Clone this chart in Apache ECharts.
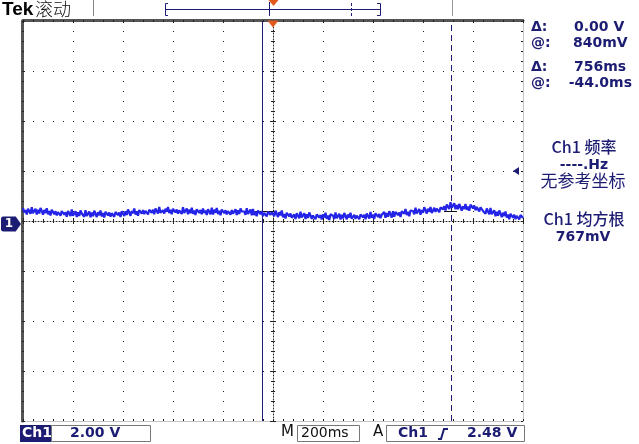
<!DOCTYPE html>
<html><head><meta charset="utf-8">
<script src="https://cdn.jsdelivr.net/npm/echarts@6/dist/echarts.min.js"></script>
<style>html,body{margin:0;padding:0;background:#fff;}#c{width:639px;height:444px;}</style>
</head><body><div id="c"></div>
<script>
// ---- data ----
const timeStart = -1000;      // ms (screen left)
const timeStep = 5;           // ms per sample
const timeRange = [-1000, 1000];
const voltRange = [-8, 8];
const timeDiv = 200;          // ms/div
const voltDiv = 2;            // V/div
const ch1Volts = [
 0.52,0.34,0.44,0.26,0.49,0.42,0.29,0.55, 0.31,0.36,0.49,0.26,0.45,0.30,0.52,0.40,
 0.25,0.44,0.32,0.51,0.27,0.40,0.22,0.45, 0.45,0.27,0.39,0.22,0.36,0.43,0.21,0.40,
 0.43,0.25,0.35,0.17,0.40,0.33,0.20,0.46, 0.21,0.26,0.39,0.16,0.35,0.20,0.42,0.30,
 0.30,0.17,0.43,0.20,0.25,0.38,0.15,0.34, 0.19,0.41,0.29,0.16,0.35,0.23,0.42,0.18,
 0.32,0.14,0.37,0.40,0.22,0.34,0.17,0.31, 0.39,0.17,0.36,0.42,0.24,0.34,0.16,0.39,
 0.43,0.20,0.39,0.24,0.46,0.34,0.21,0.40, 0.31,0.50,0.26,0.39,0.21,0.44,0.47,0.29,
 0.44,0.27,0.41,0.48,0.26,0.45,0.51,0.33, 0.45,0.27,0.50,0.43,0.30,0.56,0.33,0.38,
 0.43,0.30,0.49,0.37,0.56,0.32,0.45,0.27, 0.49,0.52,0.34,0.46,0.29,0.43,0.50,0.28,
 0.55,0.32,0.37,0.50,0.27,0.46,0.31,0.53, 0.29,0.42,0.24,0.47,0.50,0.32,0.44,0.27,
 0.50,0.32,0.42,0.24,0.47,0.40,0.27,0.53, 0.26,0.45,0.33,0.52,0.28,0.41,0.23,0.46,
 0.49,0.31,0.43,0.26,0.40,0.47,0.25,0.44, 0.29,0.34,0.47,0.24,0.43,0.28,0.50,0.38,
 0.45,0.38,0.25,0.51,0.28,0.33,0.46,0.23, 0.48,0.24,0.37,0.19,0.42,0.45,0.27,0.39,
 0.19,0.33,0.40,0.18,0.37,0.43,0.25,0.35, 0.34,0.19,0.41,0.29,0.16,0.35,0.23,0.42,
 0.15,0.28,0.10,0.33,0.36,0.18,0.30,0.13, 0.16,0.26,0.08,0.31,0.24,0.11,0.37,0.14,
 0.18,0.31,0.08,0.27,0.12,0.34,0.22,0.09, 0.22,0.29,0.07,0.26,0.32,0.14,0.24,0.06,
 0.26,0.14,0.33,0.09,0.22,0.04,0.27,0.30, 0.21,0.08,0.34,0.11,0.16,0.29,0.06,0.25,
 0.10,0.32,0.20,0.07,0.26,0.14,0.33,0.09, 0.13,0.25,0.08,0.22,0.29,0.07,0.26,0.32,
 0.15,0.25,0.07,0.30,0.23,0.10,0.36,0.13, 0.26,0.08,0.31,0.34,0.16,0.28,0.11,0.25,
 0.23,0.36,0.13,0.32,0.17,0.39,0.27,0.14, 0.39,0.17,0.36,0.42,0.24,0.34,0.16,0.39,
 0.41,0.29,0.48,0.24,0.37,0.19,0.42,0.45, 0.40,0.27,0.53,0.30,0.35,0.48,0.25,0.44,
 0.33,0.55,0.43,0.30,0.49,0.37,0.56,0.32, 0.41,0.53,0.36,0.50,0.57,0.35,0.54,0.60,
 0.47,0.59,0.42,0.66,0.60,0.48,0.75,0.53,
 0.59,0.71,0.47,0.64,0.47,0.68,0.55,0.41,
 0.59,0.48,0.68,0.45,0.58,0.41,0.65,0.68,
 0.51,0.62,0.43,0.56,0.61,0.38,0.55,0.60,
 0.40,0.48,0.29,0.50,0.42,0.27,0.52,0.27,
 0.31,0.43,0.19,0.37,0.21,0.42,0.29,0.15,
 0.33,0.20,0.38,0.14,0.26,0.07,0.29,0.32,
 0.13,0.25,0.07,0.21,0.28,0.06,0.24,0.30,0.12
];
const cursorTimes = [-44, 712];      // ms
const trackLevel = 0.4;              // V at cursor crossing
const triggerLevelMark = 2.0;        // V (right-edge marker)
const readout = {
  dV: '0.00 V', atV: '840mV', dT: '756ms', atT: '-44.0ms',
  freqTitle: 'Ch1 频率', freq: '----.Hz', freqNote: '无参考坐标',
  rmsTitle: 'Ch1 均方根', rms: '767mV',
  scale: '2.00 V', time: '200ms', trig: '2.48 V'
};

const navy = '#1c1c72';
const trace = '#2424e8';
const font = '"DejaVu Sans"';
const cjk = '"Noto Sans CJK SC"';

const seriesData = ch1Volts.map((v, i) => [timeStart + i * timeStep, v]);

const G = {left: 23, top: 21, width: 500, height: 400};
const dots = [1, 9];

const chart = echarts.init(document.getElementById('c'), null, {renderer: 'canvas'});
chart.setOption({
  animation: false,
  backgroundColor: '#ffffff',
  grid: [
    Object.assign({}, G),
    Object.assign({}, G),
    Object.assign({}, G)
  ],
  xAxis: [
    { gridIndex: 0, type: 'value', min: timeRange[0], max: timeRange[1], interval: timeDiv, position: 'bottom',
      axisLine: {show: true, onZero: false, lineStyle: {color: '#c4c4c4', width: 1}},
      axisTick: {show: true, inside: true, length: 2, lineStyle: {color: '#222'}},
      minorTick: {show: true, splitNumber: 5, length: 2, lineStyle: {color: '#222'}},
      axisLabel: {show: false},
      splitLine: {show: true, lineStyle: {color: '#222', width: 1, type: dots}} },
    { gridIndex: 0, type: 'value', min: timeRange[0], max: timeRange[1], interval: timeDiv, position: 'top', offset: 1,
      axisLine: {show: true, onZero: false, lineStyle: {color: '#555', width: 3}},
      axisTick: {show: true, inside: true, length: 3, lineStyle: {color: '#222'}},
      minorTick: {show: true, splitNumber: 5, length: 2, lineStyle: {color: '#222'}},
      axisLabel: {show: false}, splitLine: {show: false} },
    { gridIndex: 1, type: 'value', min: timeRange[0], max: timeRange[1], interval: timeDiv,
      axisLine: {show: true, onZero: true, lineStyle: {color: '#222', width: 1, type: [1, 2]}},
      axisTick: {show: true, inside: true, length: 3, lineStyle: {color: '#222'}},
      minorTick: {show: true, splitNumber: 5, length: 2, lineStyle: {color: '#222'}},
      axisLabel: {show: false}, splitLine: {show: false} },
    { gridIndex: 2, type: 'value', min: timeRange[0], max: timeRange[1], interval: timeDiv,
      axisLine: {show: false, onZero: true},
      axisTick: {show: true, inside: false, length: 3, lineStyle: {color: '#222'}},
      minorTick: {show: true, splitNumber: 5, length: 2, lineStyle: {color: '#222'}},
      axisLabel: {show: false}, splitLine: {show: false} }
  ],
  yAxis: [
    { gridIndex: 0, type: 'value', min: voltRange[0], max: voltRange[1], interval: voltDiv, position: 'left', offset: 1,
      axisLine: {show: true, onZero: false, lineStyle: {color: '#555', width: 3}},
      axisTick: {show: true, inside: true, length: 3, lineStyle: {color: '#222'}},
      minorTick: {show: true, splitNumber: 5, length: 2, lineStyle: {color: '#222'}},
      axisLabel: {show: false},
      splitLine: {show: true, lineStyle: {color: '#222', width: 1, type: dots}} },
    { gridIndex: 0, type: 'value', min: voltRange[0], max: voltRange[1], interval: voltDiv, position: 'right',
      axisLine: {show: true, onZero: false, lineStyle: {color: '#c4c4c4', width: 1}},
      axisTick: {show: true, inside: true, length: 2, lineStyle: {color: '#222'}},
      minorTick: {show: true, splitNumber: 5, length: 2, lineStyle: {color: '#222'}},
      axisLabel: {show: false}, splitLine: {show: false} },
    { gridIndex: 1, type: 'value', min: voltRange[0], max: voltRange[1], interval: voltDiv,
      axisLine: {show: true, onZero: true, lineStyle: {color: '#222', width: 1, type: [1, 2]}},
      axisTick: {show: true, inside: true, length: 3, lineStyle: {color: '#222'}},
      minorTick: {show: true, splitNumber: 5, length: 2, lineStyle: {color: '#222'}},
      axisLabel: {show: false}, splitLine: {show: false} },
    { gridIndex: 2, type: 'value', min: voltRange[0], max: voltRange[1], interval: voltDiv,
      axisLine: {show: false, onZero: true},
      axisTick: {show: true, inside: false, length: 3, lineStyle: {color: '#222'}},
      minorTick: {show: true, splitNumber: 5, length: 2, lineStyle: {color: '#222'}},
      axisLabel: {show: false}, splitLine: {show: false} }
  ],
  series: [
    { type: 'line', xAxisIndex: 0, yAxisIndex: 0, data: seriesData, showSymbol: false, symbol: 'none',
      lineStyle: {color: trace, width: 2.2}, z: 5,
      markLine: {
        silent: true, symbol: ['none', 'none'], label: {show: false},
        data: [
          {xAxis: cursorTimes[0], lineStyle: {color: navy, width: 1, type: 'solid'}},
          {xAxis: cursorTimes[1], lineStyle: {color: navy, width: 1, type: [6, 4]}},
          [{coord: [cursorTimes[0] - 30, trackLevel], lineStyle: {color: '#111', width: 1, type: 'solid'}}, {coord: [cursorTimes[0] + 60, trackLevel]}],
          [{coord: [cursorTimes[1] - 28, trackLevel], lineStyle: {color: '#111', width: 1, type: 'solid'}}, {coord: [cursorTimes[1] + 24, trackLevel]}]
        ]
      } },
    { type: 'line', xAxisIndex: 0, yAxisIndex: 0, data: [], clip: false, z: 10,
      markPoint: {
        silent: true,
        data: [
          { coord: [timeRange[0], 0], symbol: 'path://M0,2 Q0,0 2,0 L14,0 L19,7 L14,14 L2,14 Q0,14 0,12 Z',
            symbolSize: [20, 15], symbolOffset: [-12, 3], itemStyle: {color: navy},
            label: {show: true, formatter: '1', color: '#fff', fontWeight: 'bold', fontSize: 12, fontFamily: font, offset: [-2, 0]} },
          { coord: [0, voltRange[1]], symbol: 'triangle', symbolRotate: 180, symbolSize: [11, 7], symbolOffset: [0, 3],
            itemStyle: {color: '#e05a1e'}, label: {show: false} },
          { coord: [timeRange[1], triggerLevelMark], symbol: 'triangle', symbolRotate: 90, symbolSize: [8, 6], symbolOffset: [-7, 0],
            itemStyle: {color: navy}, label: {show: false} }
        ]
      } }
  ],
  graphic: [
    // header
    {type: 'text', left: 2, top: 0, style: {text: 'Tek', font: 'bold 19px "Liberation Sans"', fill: '#000'}},
    {type: 'text', left: 35, top: 0, style: {text: '滚动', font: '300 18px ' + cjk, fill: '#111'}},
    {type: 'line', shape: {x1: 93.5, y1: 0, x2: 93.5, y2: 16}, style: {stroke: '#888', lineWidth: 1}},
    {type: 'polyline', shape: {points: [[168, 3.5], [165.5, 3.5], [165.5, 15.5], [168, 15.5]]}, style: {stroke: navy, lineWidth: 1, fill: null}},
    {type: 'line', shape: {x1: 166, y1: 9.5, x2: 380, y2: 9.5}, style: {stroke: navy, lineWidth: 1}},
    {type: 'polyline', shape: {points: [[377, 3.5], [380.5, 3.5], [380.5, 15.5], [377, 15.5]]}, style: {stroke: navy, lineWidth: 1, fill: null}},
    {type: 'line', shape: {x1: 269.5, y1: 2, x2: 269.5, y2: 16}, style: {stroke: navy, lineWidth: 1}},
    {type: 'line', shape: {x1: 351.5, y1: 3, x2: 351.5, y2: 16}, style: {stroke: navy, lineWidth: 1, lineDash: [3, 2]}},
    {type: 'polygon', shape: {points: [[268.5, 0], [278.5, 0], [273.5, 6]]}, style: {fill: '#e05a1e'}},
    {type: 'line', shape: {x1: 452.5, y1: 0, x2: 452.5, y2: 16}, style: {stroke: '#999', lineWidth: 1}},
    // right readouts
    {type: 'text', left: 531, top: 20, style: {text: 'Δ:', font: 'bold 14px ' + font, fill: navy}},
    {type: 'text', left: 531, top: 36, style: {text: '@:', font: 'bold 14px ' + font, fill: navy}},
    {type: 'text', left: 531, top: 60, style: {text: 'Δ:', font: 'bold 14px ' + font, fill: navy}},
    {type: 'text', left: 531, top: 76, style: {text: '@:', font: 'bold 14px ' + font, fill: navy}},
    {type: 'text', left: 574, top: 20, style: {text: readout.dV, font: 'bold 14px ' + font, fill: navy}},
    {type: 'text', left: 573, top: 36, style: {text: readout.atV, font: 'bold 14px ' + font, fill: navy}},
    {type: 'text', left: 574, top: 60, style: {text: readout.dT, font: 'bold 14px ' + font, fill: navy}},
    {type: 'text', right: 7, top: 76, style: {text: readout.atT, font: 'bold 14px ' + font, fill: navy}},
    {type: 'text', x: 584, y: 139, style: {text: readout.freqTitle, font: '500 16px ' + cjk, fill: navy, align: 'center'}},
    {type: 'text', x: 584, y: 158, style: {text: readout.freq, font: 'bold 14px ' + font, fill: navy, align: 'center'}},
    {type: 'text', x: 583, y: 172, style: {text: readout.freqNote, font: '17px ' + cjk, fill: navy, align: 'center'}},
    {type: 'text', x: 584, y: 211, style: {text: readout.rmsTitle, font: '500 16px ' + cjk, fill: navy, align: 'center'}},
    {type: 'text', x: 583, y: 230, style: {text: readout.rms, font: 'bold 14px ' + font, fill: navy, align: 'center'}},
    // bottom status bar
    {type: 'rect', shape: {x: 20, y: 425, width: 31, height: 17}, style: {fill: navy}},
    {type: 'text', left: 22, top: 426, style: {text: 'Ch1', font: 'bold 14px ' + font, fill: '#fff'}},
    {type: 'rect', shape: {x: 51.5, y: 425.5, width: 99, height: 16}, style: {fill: null, stroke: '#777', lineWidth: 1}},
    {type: 'text', left: 70, top: 426, style: {text: readout.scale, font: 'bold 14px ' + font, fill: navy}},
    {type: 'text', left: 281, top: 425, style: {text: 'M', font: '15px ' + font, fill: '#111'}},
    {type: 'rect', shape: {x: 297.5, y: 425.5, width: 62, height: 16}, style: {fill: null, stroke: '#777', lineWidth: 1}},
    {type: 'text', left: 301, top: 426, style: {text: readout.time, font: '14px ' + font, fill: '#111'}},
    {type: 'text', left: 373, top: 425, style: {text: 'A', font: '15px ' + font, fill: '#111'}},
    {type: 'rect', shape: {x: 386.5, y: 425.5, width: 138, height: 16}, style: {fill: null, stroke: '#777', lineWidth: 1}},
    {type: 'text', left: 398, top: 426, style: {text: 'Ch1', font: 'bold 14px ' + font, fill: navy}},
    {type: 'polyline', shape: {points: [[438, 439], [441, 439], [444, 429], [448, 429]]}, style: {stroke: navy, lineWidth: 2, fill: null}},
    {type: 'text', left: 467, top: 426, style: {text: readout.trig, font: 'bold 14px ' + font, fill: navy}}
  ]
});
</script>
</body></html>
